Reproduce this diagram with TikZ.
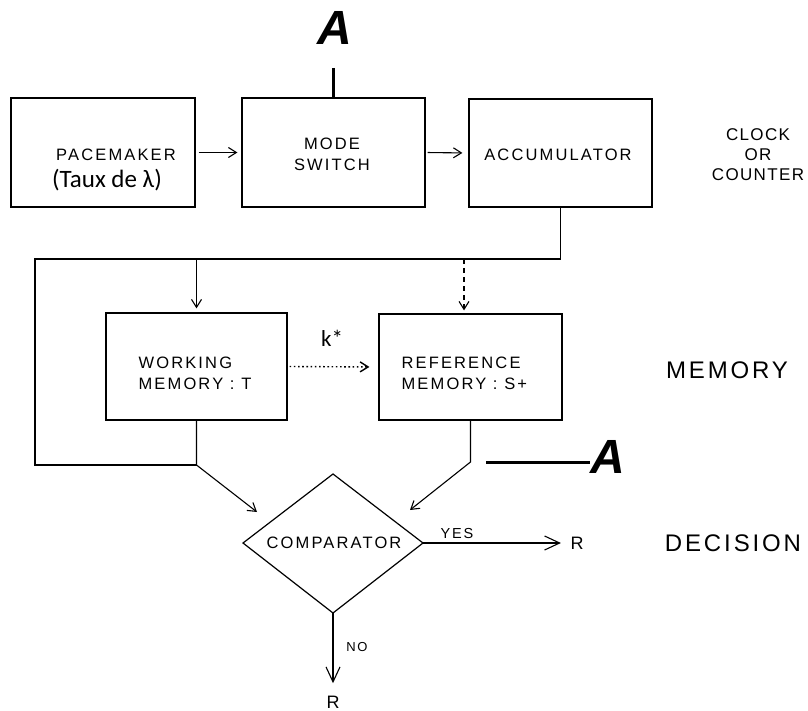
\documentclass[tikz,border=0pt]{standalone}
\usepackage{fontspec}
\setmainfont{Liberation Sans}
\newfontfamily\lab[LetterSpace=13]{Liberation Sans}
\newfontfamily\clab[LetterSpace=8]{Liberation Sans}
\newfontfamily\biglab[LetterSpace=12]{Liberation Sans}
\newfontfamily\carl{Carlito}
\usetikzlibrary{arrows.meta}
\begin{document}
\begin{tikzpicture}[x=1pt,y=-1pt,line width=1.2pt,
  box/.style={draw,line width=1.2pt,inner sep=0pt},
  txt/.style={inner sep=0pt,font=\lab\fontsize{16.5}{21}\selectfont},
  side/.style={inner sep=0pt,font=\biglab\fontsize{24}{26}\selectfont},
  arr/.style={-{Straight Barb[length=8pt,width=10pt]},line width=1.1pt},
  bigarr/.style={-{Straight Barb[length=15pt,width=14pt]},line width=1.1pt},
  aline/.style={line width=3pt},
  bigA/.style={inner sep=0pt,font=\fontsize{48}{48}\selectfont\bfseries\itshape}]
\useasboundingbox (0,0) rectangle (808,711);

% top row boxes
\node[box,minimum width=184pt,minimum height=109pt] (pm) at (103,152.5) {};
\node[box,minimum width=183pt,minimum height=109pt] (ms) at (333.5,152.5) {};
\node[box,minimum width=183pt,minimum height=108pt] (acc) at (560.5,153) {};

\node[txt] (pmt) at (116,155) {PACEMAKER};
\node[inner sep=0pt,font=\carl\fontsize{25}{28}\selectfont] (pml) at (107,180) {(Taux de λ)};
\node[txt,align=center] (mst) at (332,154) {MODE\\SWITCH};
\node[txt] (acct) at (558,155) {ACCUMULATOR};
\node[inner sep=0pt,font=\clab\fontsize{17}{20}\selectfont,align=center] (clk) at (758,155) {CLOCK\\OR\\COUNTER};

% memory boxes
\node[box,minimum width=181pt,minimum height=107pt] (wm) at (196.5,366.5) {};
\node[box,minimum width=183pt,minimum height=106pt] (rm) at (470.5,367) {};
\node[txt,align=left,anchor=west] (wmt) at (138,373) {WORKING\\MEMORY : T};
\node[txt,align=left,anchor=west] (rmt) at (401,373) {REFERENCE\\MEMORY : S+};
\node[inner sep=0pt,font=\carl\fontsize{23}{24}\selectfont] (k) at (332,338) {k*};
\node[side] (mem) at (727,370) {MEMORY};

% comparator
\coordinate (dl) at (243,543);
\coordinate (dt) at (333,474);
\coordinate (dr) at (423,543);
\coordinate (db) at (333,613);
\draw (dl) -- (dt) -- (dr) -- (db) -- cycle;
\node[txt] (cmp) at (334,543) {COMPARATOR};
\node[side] (dec) at (733,543) {DECISION};
\node[inner sep=0pt,font=\lab\fontsize{14.5}{14}\selectfont] (yes) at (457,534) {YES};
\node[inner sep=0pt,font=\lab\fontsize{13}{14}\selectfont] (no) at (357,647) {NO};
\node[inner sep=0pt,font=\fontsize{18}{20}\selectfont] (ry) at (577,543) {R};
\node[inner sep=0pt,font=\fontsize{18}{20}\selectfont] (rn) at (333,702) {R};

% A labels
\node[bigA] (at) at (335,28) {A};
\node[bigA] (ar) at (608,457) {A};
\coordinate (at1) at (333.5,68);
\draw[aline] (at1) -- (ms.north);
\coordinate (ar1) at (486,462);
\draw[aline] (ar1) -- (ar1 -| ar.west);

% top row arrows
\draw[arr,shorten <=3pt,shorten >=4pt] (pm.east) -- (ms.west);
\draw[arr,shorten <=2pt,shorten >=6pt] (ms.east) -- (acc.west);

% loop
\coordinate (ll) at (35,259);
\coordinate (lb) at (35,465);
\coordinate (wj) at (196.5,465);
\draw (acc.south) |- (ll) -- (lb) -- (wj);
\coordinate (wa) at (196.5,259);
\draw[arr,shorten >=4pt] (wa) -- (wm.north);
\coordinate (ra) at (464,259);
\draw[arr,dashed,dash pattern=on 5pt off 4pt,shorten >=3pt] (ra) -- (ra |- rm.north);
\draw[arr,line width=1.4pt,dash pattern=on 1.6pt off 2.6pt,shorten <=2pt,shorten >=9pt] (wm.east) -- (rm.west);

% into comparator
\coordinate (c1) at (257,512);
\draw[arr] (wm.south) -- (wj) -- (c1);
\coordinate (rj) at (470.5,462);
\coordinate (c2) at (410,510);
\draw[arr] (rm.south) -- (rj) -- (c2);

% outputs
\draw[bigarr,shorten >=9pt] (dr) -- (ry.west);
\draw[bigarr,shorten >=12pt] (db) -- (rn.north);
\end{tikzpicture}
\end{document}
